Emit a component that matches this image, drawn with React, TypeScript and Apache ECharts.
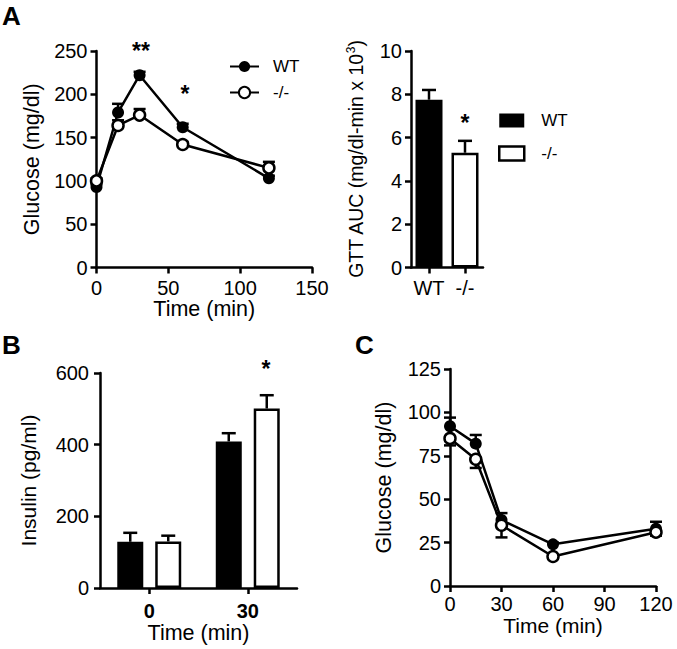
import React, { useEffect, useRef } from 'react';
import * as echarts from 'echarts';

// Panel A (GTT)
const aTime = [0, 15, 30, 60, 120];
const aWt = [93, 179, 222, 162, 103];
const aKo = [100, 164, 176, 142, 115];
const aWtSem = [3, 10, 4, 4, 3];
const aKoSem = [3, 6, 7, 3, 7];
const aTicksX = { min: 0, max: 150, interval: 50 };
const aTicksY = { min: 0, max: 250, interval: 50 };

// Panel A (AUC)
const aucCats = ['WT', '-/-'];
const aucVals = [7.75, 5.3];
const aucSem = [0.45, 0.55];

// Panel B (insulin)
const bCats = ['0', '30'];
const bWt = [129, 409];
const bKo = [130, 501];
const bWtSem = [25, 23];
const bKoSem = [16, 37];

// Panel C (ITT)
const cTime = [0, 15, 30, 60, 120];
const cWt = [92, 82, 38, 24, 33];
const cKo = [85, 73, 35, 17, 31];
const cWtSem = [5, 5, 4, 1, 4];
const cKoSem = [4, 5, 7, 1, 2];

const FONT = 'Liberation Sans, Arial, sans-serif';
const LW = 2.5;
const TICK_FS = 20;
const TITLE_FS = 21.5;

function errData(xs: number[], vals: number[], sems: number[], dir: number) {
  return xs.map((x, i) => [x, vals[i], vals[i] + dir * sems[i]]);
}

function errSeries(xi: number, data: number[][], offset: number, cap: number) {
  return {
    type: 'custom',
    xAxisIndex: xi,
    yAxisIndex: xi,
    z: 1,
    silent: true,
    data,
    encode: { x: 0, y: [1, 2] },
    renderItem: (params: any, api: any) => {
      const x = api.value(0);
      const v = api.value(1);
      const e = api.value(2);
      const p0 = api.coord([x, v]);
      const p1 = api.coord([x, e]);
      const cx = p0[0] + offset;
      return {
        type: 'group',
        children: [
          { type: 'line', shape: { x1: cx, y1: p0[1], x2: cx, y2: p1[1] }, style: { stroke: '#000', lineWidth: LW } },
          { type: 'line', shape: { x1: cx - cap / 2, y1: p1[1], x2: cx + cap / 2, y2: p1[1] }, style: { stroke: '#000', lineWidth: LW } },
        ],
      };
    },
  };
}

const axisCommon = {
  axisLine: { show: true, onZero: false, lineStyle: { color: '#000', width: LW } },
  axisTick: { show: true, length: 6, lineStyle: { color: '#000', width: LW } },
  splitLine: { show: false },
  nameTextStyle: { color: '#000', fontSize: TITLE_FS, fontFamily: FONT },
};
const labelCommon = { color: '#000', fontSize: TICK_FS, fontFamily: FONT };

export default function App() {
  const ref = useRef<HTMLDivElement>(null);
  useEffect(() => {
    if (!ref.current) return;
    const chart = echarts.init(ref.current, undefined, { renderer: 'svg' });
    const star = (x: number, y: number, t: string) => ({
      type: 'text', x, y,
      style: { text: t, fill: '#000', font: `bold 23px ${FONT}`, textAlign: 'center', textVerticalAlign: 'middle' },
    });
    const panel = (x: number, y: number, t: string) => ({
      type: 'text', x, y,
      style: { text: t, fill: '#000', font: `bold 26px ${FONT}`, textAlign: 'left', textVerticalAlign: 'top' },
    });
    const option: any = {
      animation: false,
      backgroundColor: '#fff',
      grid: [
        { left: 96.5, top: 51, width: 215.5, height: 216.5 },
        { left: 411, top: 51, width: 72, height: 216.5 },
        { left: 100, top: 373, width: 197, height: 215 },
        { left: 450, top: 369, width: 206, height: 217 },
      ],
      xAxis: [
        { ...axisCommon, gridIndex: 0, type: 'value', ...aTicksX, name: 'Time (min)', nameLocation: 'middle', nameGap: 27,
          axisLabel: { ...labelCommon, margin: 10 } },
        { ...axisCommon, gridIndex: 1, type: 'category', data: aucCats, axisTick: { ...axisCommon.axisTick, alignWithLabel: true },
          axisLabel: { ...labelCommon, margin: 10, interval: 0 } },
        { ...axisCommon, gridIndex: 2, type: 'category', data: bCats, name: 'Time (min)', nameLocation: 'middle', nameGap: 28,
          axisTick: { ...axisCommon.axisTick, alignWithLabel: true },
          axisLabel: { ...labelCommon, fontWeight: 'bold', margin: 13, interval: 0 } },
        { ...axisCommon, gridIndex: 3, type: 'value', min: 0, max: 120, interval: 30, name: 'Time (min)', nameLocation: 'middle', nameGap: 27,
          nameTextStyle: { ...axisCommon.nameTextStyle, fontSize: 21 },
          axisLabel: { ...labelCommon, margin: 8 } },
      ],
      yAxis: [
        { ...axisCommon, gridIndex: 0, type: 'value', ...aTicksY, name: 'Glucose (mg/dl)', nameLocation: 'middle', nameGap: 54,
          axisLabel: { ...labelCommon, margin: 9 } },
        { ...axisCommon, gridIndex: 1, type: 'value', min: 0, max: 10, interval: 2,
          name: '{a|GTT AUC (mg/dl-min x 10}{s|3}{a|)}', nameLocation: 'middle', nameGap: 44,
          nameTextStyle: { ...axisCommon.nameTextStyle, fontSize: 19.5, rich: { a: { fontSize: 19.5, fontFamily: FONT, color: '#000', lineHeight: 22 }, s: { fontSize: 12, fontFamily: FONT, color: '#000', verticalAlign: 'top', lineHeight: 22 } } },
          axisLabel: { ...labelCommon, margin: 9 } },
        { ...axisCommon, gridIndex: 2, type: 'value', min: 0, max: 600, interval: 200, name: 'Insulin (pg/ml)', nameLocation: 'middle', nameGap: 61,
          nameTextStyle: { ...axisCommon.nameTextStyle, fontSize: 21 },
          axisLabel: { ...labelCommon, margin: 11 } },
        { ...axisCommon, gridIndex: 3, type: 'value', min: 0, max: 125, interval: 25, name: 'Glucose (mg/dl)', nameLocation: 'middle', nameGap: 55,
          axisLabel: { ...labelCommon, margin: 9 } },
      ],
      legend: [
        {
          data: ['WT', '-/-'], orient: 'vertical', left: 229, top: 58, padding: 0, itemWidth: 29, itemHeight: 14, itemGap: 9,
          textStyle: { color: '#000', fontSize: 17, fontFamily: FONT, padding: [0, 0, 0, 9] }, selectedMode: false,
        },
        {
          data: [
            { name: 'WT', icon: 'rect', itemStyle: { color: '#000', borderColor: '#000', borderWidth: 0 } },
            { name: '-/-', icon: 'rect', itemStyle: { color: '#fff', borderColor: '#000', borderWidth: LW } },
          ],
          orient: 'vertical', left: 498, top: 112, padding: 0, itemWidth: 25, itemHeight: 14, itemGap: 16,
          textStyle: { color: '#000', fontSize: 17, fontFamily: FONT, padding: [0, 0, 0, 12] }, selectedMode: false,
        },
      ],
      series: [
        { name: 'WT', type: 'line', xAxisIndex: 0, yAxisIndex: 0, z: 3, data: aTime.map((t, i) => [t, aWt[i]]),
          symbol: 'circle', symbolSize: 12, lineStyle: { color: '#000', width: LW }, itemStyle: { color: '#000' } },
        { name: '-/-', type: 'line', xAxisIndex: 0, yAxisIndex: 0, z: 4, data: aTime.map((t, i) => [t, aKo[i]]),
          symbol: 'circle', symbolSize: 11, lineStyle: { color: '#000', width: LW }, itemStyle: { color: '#fff', borderColor: '#000', borderWidth: LW } },
        errSeries(0, errData(aTime, aWt, aWtSem, 1), 0, 12),
        errSeries(0, errData(aTime, aKo, aKoSem, 1), 0, 12),

        { name: 'WT', type: 'bar', xAxisIndex: 1, yAxisIndex: 1, barWidth: 27, barGap: '-100%', data: [aucVals[0], '-'],
          itemStyle: { color: '#000' } },
        { name: '-/-', type: 'bar', xAxisIndex: 1, yAxisIndex: 1, barWidth: 27, barGap: '-100%', data: ['-', aucVals[1]],
          itemStyle: { color: '#fff', borderColor: '#000', borderWidth: LW } },
        errSeries(1, aucCats.map((c, i) => [i, aucVals[i], aucVals[i] + aucSem[i]]), 0, 14),

        { name: 'WT', type: 'bar', xAxisIndex: 2, yAxisIndex: 2, barWidth: 26, barGap: '46%', data: bWt,
          itemStyle: { color: '#000' } },
        { name: '-/-', type: 'bar', xAxisIndex: 2, yAxisIndex: 2, barWidth: 26, barGap: '46%', data: bKo,
          itemStyle: { color: '#fff', borderColor: '#000', borderWidth: LW } },
        errSeries(2, bCats.map((c, i) => [i, bWt[i], bWt[i] + bWtSem[i]]), -19, 14),
        errSeries(2, bCats.map((c, i) => [i, bKo[i], bKo[i] + bKoSem[i]]), 19, 14),

        { name: 'WT', type: 'line', xAxisIndex: 3, yAxisIndex: 3, z: 3, data: cTime.map((t, i) => [t, cWt[i]]),
          symbol: 'circle', symbolSize: 12, lineStyle: { color: '#000', width: LW }, itemStyle: { color: '#000' } },
        { name: '-/-', type: 'line', xAxisIndex: 3, yAxisIndex: 3, z: 4, data: cTime.map((t, i) => [t, cKo[i]]),
          symbol: 'circle', symbolSize: 11, lineStyle: { color: '#000', width: LW }, itemStyle: { color: '#fff', borderColor: '#000', borderWidth: LW } },
        errSeries(3, errData(cTime, cWt, cWtSem, 1), 0, 12),
        errSeries(3, errData(cTime, cKo, cKoSem, -1), 0, 12),
      ],
      graphic: [
        panel(2, 3, 'A'),
        panel(2, 332, 'B'),
        panel(355, 332, 'C'),
        star(141, 51, '**'),
        star(185, 94, '*'),
        star(465, 123, '*'),
        star(266, 369, '*'),
      ],
    };
    chart.setOption(option);
    return () => chart.dispose();
  }, []);
  return <div ref={ref} style={{ position: 'absolute', left: 0, top: 0, width: 677, height: 649 }} />;
}
